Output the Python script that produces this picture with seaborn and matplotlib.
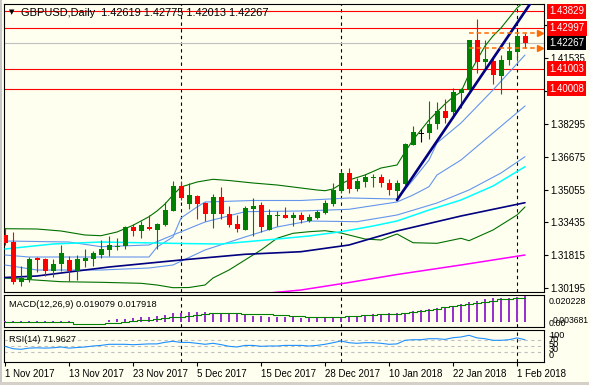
import numpy as np
import matplotlib
matplotlib.use("Agg")
import matplotlib.pyplot as plt
from matplotlib.patches import Rectangle
from matplotlib.transforms import blended_transform_factory
import seaborn as sns

# ---------------- data ----------------
title_text = "GBPUSD,Daily  1.42619 1.42775 1.42013 1.42267"
date_tick_idx = [0, 8, 16, 24, 32, 40, 48, 56, 64]
date_tick_labels = ["1 Nov 2017", "13 Nov 2017", "23 Nov 2017", "5 Dec 2017", "15 Dec 2017",
                    "28 Dec 2017", "10 Jan 2018", "22 Jan 2018", "1 Feb 2018"]
month_start_idx = [22, 42, 64]

opens = [1.32818, 1.32488, 1.30520, 1.30638, 1.31686, 1.31637, 1.31061, 1.31391, 1.31588, 1.31061,
         1.31538, 1.31622, 1.31834, 1.32080, 1.32213, 1.32277, 1.33197, 1.33030, 1.33212, 1.33064,
         1.33310, 1.33999, 1.35229, 1.34344, 1.34737, 1.34393, 1.33851, 1.34688, 1.33851, 1.33359,
         1.33064, 1.34112, 1.34294, 1.33064, 1.33768, 1.33802, 1.33669, 1.33802, 1.33507, 1.33655,
         1.33901, 1.34344, 1.34998, 1.35884, 1.35097, 1.35441, 1.35608, 1.35687, 1.35392, 1.34983,
         1.35328, 1.37247, 1.37774, 1.37852, 1.38281, 1.38920, 1.38886, 1.39821, 1.39954, 1.42415,
         1.41332, 1.41381, 1.40643, 1.41430, 1.41839, 1.42619]
highs = [1.33177, 1.32966, 1.31292, 1.31721, 1.31721, 1.31701, 1.31622, 1.32326, 1.31785, 1.31834,
         1.32129, 1.32045, 1.32557, 1.32769, 1.32656, 1.33261, 1.33359, 1.33522, 1.33802, 1.33394,
         1.34427, 1.35475, 1.35500, 1.35377, 1.34787, 1.34457, 1.34836, 1.35180, 1.34230, 1.33802,
         1.34245, 1.34639, 1.34442, 1.34098, 1.33999, 1.34196, 1.33950, 1.33950, 1.33851, 1.34048,
         1.34540, 1.35377, 1.35982, 1.36115, 1.35608, 1.35820, 1.35820, 1.35820, 1.35559, 1.35525,
         1.37331, 1.38182, 1.38020, 1.39413, 1.39378, 1.39496, 1.40038, 1.40038, 1.42415, 1.43448,
         1.42415, 1.41593, 1.41676, 1.42331, 1.42793, 1.42775]
lows = [1.32350, 1.30392, 1.30323, 1.30520, 1.31012, 1.30800, 1.30751, 1.31046, 1.30569, 1.30603,
        1.31228, 1.31292, 1.31671, 1.31799, 1.32065, 1.32114, 1.32784, 1.32685, 1.33064, 1.32129,
        1.33261, 1.33975, 1.34540, 1.34098, 1.33605, 1.33507, 1.33148, 1.33605, 1.33226, 1.32980,
        1.33040, 1.32769, 1.32980, 1.33040, 1.33261, 1.33640, 1.33261, 1.33409, 1.33458, 1.33605,
        1.33851, 1.34221, 1.34900, 1.34900, 1.34998, 1.35195, 1.35195, 1.35195, 1.34787, 1.34540,
        1.35303, 1.37223, 1.37380, 1.37528, 1.38020, 1.38345, 1.38600, 1.39053, 1.39954, 1.40805,
        1.41051, 1.40234, 1.39757, 1.41184, 1.41381, 1.42013]
closes = [1.32410, 1.30520, 1.30717, 1.31637, 1.31588, 1.31061, 1.31391, 1.31932, 1.31061, 1.31622,
          1.31686, 1.31932, 1.32129, 1.32326, 1.32277, 1.33197, 1.33030, 1.33310, 1.33128, 1.33359,
          1.34048, 1.35229, 1.34654, 1.34787, 1.34344, 1.33851, 1.34688, 1.33837, 1.33310, 1.33113,
          1.34147, 1.34245, 1.33212, 1.33802, 1.33802, 1.33669, 1.33802, 1.33556, 1.33704, 1.33950,
          1.34393, 1.35018, 1.35884, 1.35097, 1.35490, 1.35687, 1.35687, 1.35362, 1.35033, 1.35377,
          1.37296, 1.37872, 1.37774, 1.38281, 1.38920, 1.38591, 1.39870, 1.40003, 1.42415, 1.41347,
          1.41479, 1.40692, 1.41430, 1.41873, 1.42626, 1.42267]

# Bollinger-type envelope (green)
bb_up_idx = [0, 4, 7, 10, 12, 14, 16, 18, 19, 20, 21, 22, 24, 26, 28, 31, 34, 37, 39, 40, 41, 42, 43,
             45, 47, 49, 50, 51, 52, 53, 54, 55, 56, 57, 58, 59, 60, 61, 62, 63, 64, 65]
bb_up_val = [1.33128, 1.33113, 1.33015, 1.32818, 1.32783, 1.32966, 1.33295, 1.33719, 1.33999, 1.34344,
             1.34786, 1.35180, 1.35426, 1.35559, 1.35500, 1.35377, 1.35279, 1.35131, 1.35033, 1.34998,
             1.35082, 1.35328, 1.35525, 1.35771, 1.36115, 1.36263, 1.36903, 1.37493, 1.37985, 1.38477,
             1.38871, 1.39265, 1.39609, 1.39855, 1.40741, 1.41430, 1.42119, 1.42611, 1.43005, 1.43497,
             1.43989, 1.44334]
bb_lo_idx = [0, 7, 12, 17, 19, 21, 23, 25, 26, 28, 30, 32, 34, 36, 38, 40, 42, 45, 47, 49, 51, 54,
             57, 58, 61, 62, 64, 65]
bb_lo_val = [1.30702, 1.30520, 1.30490, 1.30441, 1.30357, 1.30225, 1.30234, 1.30357, 1.30702, 1.31095,
             1.31588, 1.32080, 1.32656, 1.32902, 1.32980, 1.33030, 1.32916, 1.32621, 1.32572, 1.32867,
             1.32439, 1.32409, 1.32656, 1.32537, 1.33064, 1.33310, 1.33802, 1.34196]
# light blue moving averages
ma_a_idx = [0, 3, 8, 18, 19, 21, 22, 24, 25, 31, 37, 43, 49, 51, 53, 54, 57, 61, 65]
ma_a_val = [1.31834, 1.31735, 1.31735, 1.31735, 1.32227, 1.32720, 1.33655, 1.34196, 1.34442, 1.34516,
            1.34516, 1.34639, 1.34590, 1.35525, 1.36509, 1.37346, 1.38330, 1.39954, 1.41676]
ma_b_idx = [0, 8, 12, 18, 21, 25, 30, 37, 43, 49, 51, 53, 54, 57, 65]
ma_b_val = [1.32523, 1.32473, 1.32242, 1.32326, 1.32818, 1.33458, 1.33965, 1.33999, 1.34083, 1.34442,
            1.34786, 1.35195, 1.35771, 1.36509, 1.39166]
ma_c_idx = [0, 4, 12, 18, 21, 25, 30, 34, 38, 44, 49, 54, 58, 62, 65]
ma_c_val = [1.31342, 1.31095, 1.31095, 1.31194, 1.31342, 1.32080, 1.32720, 1.33212, 1.33507, 1.33472,
            1.33802, 1.34393, 1.35033, 1.35869, 1.36671]
# cyan, navy and magenta moving averages
ma_cyan_idx = [0, 6, 12, 22, 27, 34, 38, 42, 46, 49, 53, 57, 61, 65]
ma_cyan_val = [1.32129, 1.32375, 1.32473, 1.32400, 1.32375, 1.32621, 1.32769, 1.32980, 1.33261, 1.33507,
               1.34048, 1.34540, 1.35229, 1.36179]
ma_navy_idx = [0, 4, 13, 22, 30, 37, 43, 49, 57, 65]
ma_navy_val = [1.30726, 1.30800, 1.31243, 1.31588, 1.31868, 1.31996, 1.32326, 1.33015, 1.33753, 1.34408]
ma_mag_idx = [33, 37, 43, 49, 57, 65]
ma_mag_val = [1.29964, 1.30111, 1.30480, 1.30874, 1.31342, 1.31834]

trend_idx = [49, 66]
trend_val = [1.34540, 1.44400]
red_levels = [1.43829, 1.42997, 1.41003, 1.40008]
last_price = 1.42267
hl_marks = [1.42775, 1.42013]
hl_mark_span = [58, 66.9]
price_ticks = [1.30195, 1.31815, 1.33435, 1.35055, 1.36675, 1.38295, 1.39915, 1.41535, 1.43155]

macd_hist = [0.0005, 0.0005, 0.0005, 0.0005, 0.0005, 0.0005, 0.0005, 0.0005, 0.0004,
             0.0002, -0.0002, -0.0002, 0.0003,
             0.0017, 0.0022, 0.0024, 0.0026, 0.0034, 0.0037, 0.0046, 0.0054, 0.0063, 0.0068, 0.0076,
             0.0076, 0.0070, 0.0068, 0.0066, 0.0063, 0.0059, 0.0051, 0.0046, 0.0041, 0.0039, 0.0034,
             0.0034,
             0.0034, 0.0029, 0.0026, 0.0029, 0.0032, 0.0034, 0.0039, 0.0041, 0.0046, 0.0054,
             0.0059, 0.0059, 0.0063, 0.0063, 0.0068, 0.0078, 0.0088, 0.0095, 0.0103, 0.0112,
             0.0120, 0.0132, 0.0144, 0.0156, 0.0169, 0.0176, 0.0178, 0.0180, 0.0186, 0.019079]
macd_signal = [-0.0002] * 9 + [-0.0012] * 4 + [
    -0.0008, -0.0004, 0.0000, 0.0006, 0.0012, 0.0018, 0.0024, 0.0029, 0.0034, 0.0040, 0.0046, 0.0054,
    0.0060, 0.0063, 0.0063, 0.0063, 0.0063, 0.0061, 0.0060, 0.0059, 0.0057, 0.0053, 0.0049, 0.0046,
    0.0042, 0.0039, 0.0039, 0.0039, 0.0039, 0.0039, 0.0042, 0.0046, 0.0050, 0.0054, 0.0056, 0.0059,
    0.0061, 0.0063, 0.0072, 0.0081, 0.0090, 0.0098, 0.0108, 0.0117, 0.0125, 0.0134, 0.0141, 0.0149,
    0.0157, 0.0166, 0.0171, 0.0176, 0.017918]
macd_range = [-0.003681, 0.020228]

rsi = [50, 42, 40, 44, 45, 44, 45, 47.7, 44, 46, 47.7, 51, 53, 56.7, 56.7, 56.7, 55.3, 56.7, 58, 58,
       63.3, 66.7, 63, 63, 60, 56.7, 60, 55.7, 50, 47.7, 53, 53, 50, 51, 51, 53, 53, 53, 51, 53,
       56.7, 62, 67.7, 62, 60, 62, 62, 60, 56.7, 58, 70, 72, 72, 75.3, 75.3, 73, 78.7, 81, 86.7, 78,
       75.3, 70, 70, 72, 78, 71.9627]
rsi_levels = [30, 50, 70]

# ---------------- style ----------------
BG = "#FFFFF0"
UP, DN = "#008000", "#FF0000"
BB_C = "#007000"
LB = "#6495ED"
CYAN = "#00FFFF"
NAVY = "#000080"
MAG = "#FF00FF"
PURPLE = "#9932CC"
ORANGE = "#FF6A00"
RSI_C = "#1E90FF"
THIN = 0.8

sns.set_theme(style="white")
plt.rcParams["font.family"] = ["Liberation Sans", "DejaVu Sans"]
plt.rcParams["axes.linewidth"] = THIN

W, H = 589, 385
fig = plt.figure(figsize=(W / 100, H / 100), dpi=100, facecolor=BG)


def rect(l, t, r, b):
    return [l / W, 1 - b / H, (r - l) / W, (b - t) / H]


ax = fig.add_axes(rect(4, 4, 544, 292))
axm = fig.add_axes(rect(4, 294.5, 544, 327))
axr = fig.add_axes(rect(4, 329.5, 544, 362.3))

XL = (-0.125, 67.375)
for a in (ax, axm, axr):
    a.set_facecolor(BG)
    a.set_xlim(*XL)
    a.grid(False)
    for s in a.spines.values():
        s.set_color("black")
        s.set_linewidth(THIN)
    for m in month_start_idx:
        a.axvline(m, color="black", lw=THIN, ls=(0, (3, 3)), zorder=2)

idx = np.arange(len(opens))
o, h, l, c = map(np.asarray, (opens, highs, lows, closes))

# indicator lines
line_specs = [
    (bb_up_idx, bb_up_val, BB_C, THIN), (bb_lo_idx, bb_lo_val, BB_C, THIN),
    (ma_a_idx, ma_a_val, LB, THIN), (ma_b_idx, ma_b_val, LB, THIN), (ma_c_idx, ma_c_val, LB, THIN),
    (ma_cyan_idx, ma_cyan_val, CYAN, 1.1), (ma_navy_idx, ma_navy_val, NAVY, 1.2),
    (ma_mag_idx, ma_mag_val, MAG, 1.1),
]
for xi, yv, col, lw in line_specs:
    sns.lineplot(x=xi, y=yv, ax=ax, color=col, linewidth=lw, legend=False, zorder=3)

# horizontal levels
for v in red_levels:
    ax.axhline(v, color="red", lw=THIN, zorder=2.5)
ax.axhline(last_price, color="#C0C0C0", lw=THIN, zorder=2.4)

# candles
cols = np.where(c > o, UP, np.where(c < o, DN, "black"))
ax.vlines(idx, l, h, colors=cols, lw=THIN, zorder=4)
ax.bar(idx, np.maximum(np.abs(c - o), 0.0004), bottom=np.minimum(o, c), width=0.625,
       color=cols, linewidth=0, zorder=4)

# trend line
sns.lineplot(x=trend_idx, y=trend_val, ax=ax, color=NAVY, linewidth=1.9, legend=False, zorder=5)

# high/low marks of the last bar
for v in hl_marks:
    ax.plot(hl_mark_span, [v, v], color=ORANGE, lw=1.1, ls=(0, (3, 2)), zorder=5, clip_on=False)
    ax.plot([hl_mark_span[1]], [v], marker=">", ms=5, color=ORANGE, mec=ORANGE, zorder=5,
            clip_on=False)

ax.set_ylim(1.30013, 1.44186)
ax.yaxis.tick_right()
ax.set_yticks(price_ticks)
ax.set_yticklabels([f"{v:.5f}" for v in price_ticks])
ax.tick_params(axis="y", which="both", right=True, left=False, length=3, width=THIN,
               color="black", labelsize=7, pad=1.5, labelcolor="black")
ax.set_xticks([])
ax.set_xlabel("")
ax.set_ylabel("")

bt = blended_transform_factory(ax.transAxes, ax.transData)
xlab = (549 - 4) / 540
for v in red_levels:
    ax.text(xlab, v, f"{v:.5f}", transform=bt, ha="left", va="center", fontsize=7, color="white",
            bbox=dict(boxstyle="square,pad=0.25", fc="red", ec="none"), zorder=8, clip_on=False)
ax.text(xlab, last_price, f"{last_price:.5f}", transform=bt, ha="left", va="center", fontsize=7,
        color="white", bbox=dict(boxstyle="square,pad=0.25", fc="black", ec="none"), zorder=8,
        clip_on=False)

ax.text((21 - 4) / 540, (292 - 13.3) / 288, title_text, transform=ax.transAxes, ha="left",
        va="center", fontsize=7.9, color="black", zorder=9)
ax.text((12 - 4) / 540, (292 - 12.5) / 288, "\u25bc", transform=ax.transAxes, ha="center",
        va="center", fontsize=5, color="black", family=["DejaVu Sans"], zorder=9)

# MACD panel
axm.bar(idx, macd_hist, width=0.18, color=PURPLE, linewidth=0, zorder=3)
sns.lineplot(x=idx, y=macd_signal, ax=axm, color="green", linewidth=THIN, legend=False,
             drawstyle="steps-mid", zorder=4)
axm.set_ylim(*macd_range)
axm.set_xticks([])
axm.set_yticks([])
axm.set_xlabel("")
axm.set_ylabel("")
axm.text((9 - 4) / 540, 0.69, "MACD(12,26,9) 0.019079 0.017918", transform=axm.transAxes,
         ha="left", va="center", fontsize=6.7, color="black")
axm.text(xlab, 0.77, "0.020228", transform=axm.transAxes, ha="left", va="center", fontsize=6.4,
         color="black", clip_on=False)
axm.text(xlab, 0.12, "0.00", transform=axm.transAxes, ha="left", va="center", fontsize=6.4,
         color="black", clip_on=False)
axm.text((553 - 4) / 540, 0.19, "0.003681", transform=axm.transAxes, ha="left", va="center",
         fontsize=6.2, color="black", clip_on=False)

# RSI panel
for lv in rsi_levels:
    axr.axhline(lv, color="#C0C0C0", lw=THIN, ls=(0, (3, 3)), zorder=2)
sns.lineplot(x=idx, y=rsi, ax=axr, color=RSI_C, linewidth=THIN, legend=False, zorder=4)
axr.set_ylim(-3.3, 106)
axr.set_yticks([])
axr.set_ylabel("")
axr.text((9 - 4) / 540, 0.71, "RSI(14) 71.9627", transform=axr.transAxes, ha="left",
         va="center", fontsize=6.6, color="black")
for txt, fy in [("100", 0.82), ("70", 0.71), ("50", 0.54), ("30", 0.40), ("0", 0.215)]:
    axr.text(xlab, fy, txt, transform=axr.transAxes, ha="left", va="center", fontsize=6.6,
             color="black", clip_on=False)
axr.set_xticks(date_tick_idx)
axr.set_xticklabels(date_tick_labels)
axr.tick_params(axis="x", bottom=True, length=3, width=THIN, color="black", labelsize=7, pad=2,
                labelcolor="black")
for t in axr.get_xticklabels():
    t.set_ha("left")
axr.set_xlabel("")

# window edges
fig.patches.append(Rectangle((0, 0), 1.5 / W, 1, transform=fig.transFigure, fc="#C8C8C8",
                             ec="none"))
fig.patches.append(Rectangle((0, 0), 1, 3 / H, transform=fig.transFigure, fc="#D4D0C8",
                             ec="none"))

fig.savefig("out.png", dpi=100, facecolor=BG)
